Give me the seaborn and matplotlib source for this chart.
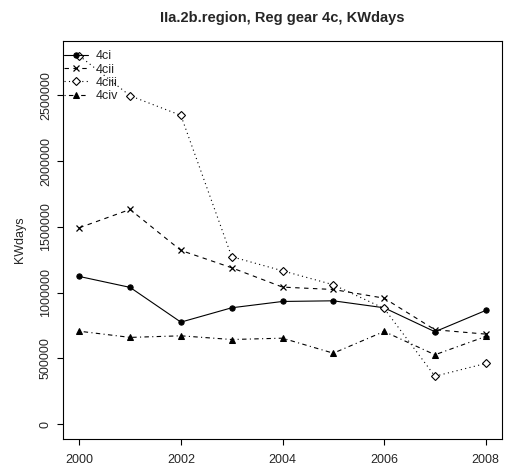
import numpy as np
import pandas as pd
import matplotlib
matplotlib.use("Agg")
import matplotlib.pyplot as plt
import seaborn as sns

# Yearly effort (KWdays) by regulated gear sub-category
years = [2000, 2001, 2002, 2003, 2004, 2005, 2006, 2007, 2008]
kw_4ci = [1123000, 1040000, 776000, 885000, 933000, 938000, 885000, 703000, 865000]
kw_4cii = [1493000, 1632000, 1321000, 1189000, 1042000, 1024000, 958000, 718000, 685000]
kw_4ciii = [2800000, 2496000, 2347000, 1273000, 1166000, 1060000, 880000, 365000, 462000]
kw_4civ = [707000, 660000, 672000, 644000, 654000, 540000, 705000, 528000, 667000]
series_names = ["4ci", "4cii", "4ciii", "4civ"]
x_ticks = [2000, 2002, 2004, 2006, 2008]
y_ticks = [0, 500000, 1000000, 1500000, 2000000, 2500000]
title = "IIa.2b.region, Reg gear 4c, KWdays"

df = pd.DataFrame({"year": years, "4ci": kw_4ci, "4cii": kw_4cii,
                   "4ciii": kw_4ciii, "4civ": kw_4civ})

sns.set_style("white")
plt.rcParams["font.family"] = ["Liberation Sans", "DejaVu Sans"]

fig = plt.figure(figsize=(5.06, 4.69), dpi=100)
W, H = 506, 469
ax = fig.add_axes([63 / W, (H - 439) / H, (502 - 63) / W, (439 - 41) / H])

styles = {
    "4ci": dict(linestyle="-", marker="o", ms=3.8, mfc="black", mec="black"),
    "4cii": dict(linestyle=(0, (4, 4)), marker="x", ms=4.6, mew=0.9, mec="black"),
    "4ciii": dict(linestyle=(0, (1, 3)), marker="D", ms=4.2, mfc="white", mec="black", mew=0.8),
    "4civ": dict(linestyle=(0, (1, 3, 4, 3)), marker="^", ms=4.8, mfc="black", mec="black"),
}

for name in series_names:
    sns.lineplot(data=df, x="year", y=name, ax=ax, color="black", lw=0.8,
                 label=name, **styles[name])

ymax = max(max(kw_4ci), max(kw_4cii), max(kw_4ciii), max(kw_4civ))
xr = years[-1] - years[0]
ax.set_xlim(years[0] - 0.04 * xr, years[-1] + 0.04 * xr)
ax.set_ylim(-0.04 * ymax, 1.04 * ymax)

ax.set_xticks(x_ticks)
ax.set_xticklabels([str(t) for t in x_ticks], fontsize=9)
ax.set_yticks(y_ticks)
ax.set_yticklabels([str(t) for t in y_ticks], fontsize=9, rotation=90, va="center")
ax.tick_params(axis="both", direction="out", length=4, width=0.8, color="black",
               bottom=True, left=True)
ax.tick_params(axis="y", pad=4)
ax.tick_params(axis="x", pad=7)

for sp in ax.spines.values():
    sp.set_visible(True)
    sp.set_color("black")
    sp.set_linewidth(0.8)

ax.set_xlabel("")
ax.set_ylabel("KWdays", fontsize=9, labelpad=10)
ax.set_title(title, fontsize=10.5, fontweight="bold", pad=14)

leg = ax.legend(loc="upper left", bbox_to_anchor=(0.0, 1.0 - 8 / 398),
                frameon=False, fontsize=9, handlelength=1.9,
                handletextpad=0.6, labelspacing=0.1, borderaxespad=0.0,
                borderpad=0.1)

fig.savefig("out.png", dpi=100)
